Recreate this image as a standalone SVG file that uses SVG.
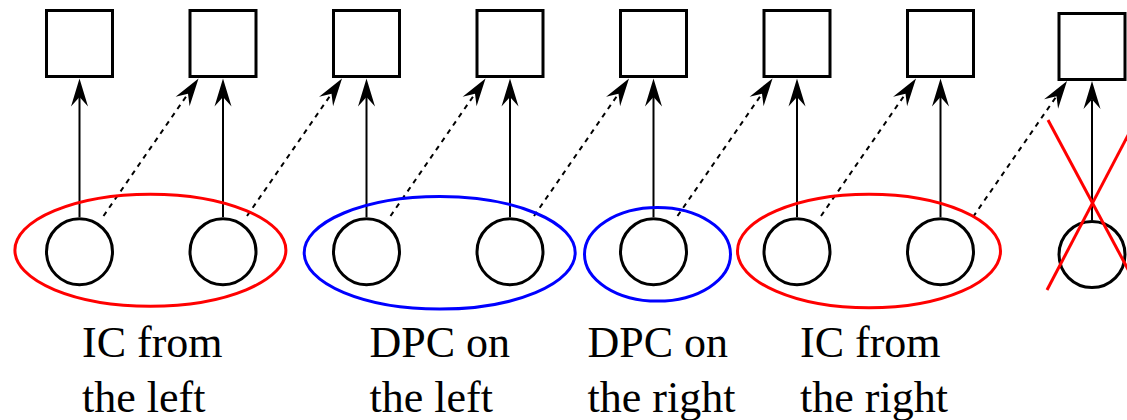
<svg xmlns="http://www.w3.org/2000/svg" width="1127" height="420" viewBox="0 0 1127 420">
  <style>
    .box { fill: none; stroke: #000; stroke-width: 3; }
    .node { fill: none; stroke: #000; stroke-width: 3; }
    .link { stroke: #000; stroke-width: 2; fill: none; marker-end: url(#head); }
    .dash { stroke-dasharray: 5 5; }
    .red { fill: none; stroke: #ff0000; stroke-width: 3; }
    .blue { fill: none; stroke: #0000ff; stroke-width: 3; }
    .label { font-family: "Liberation Serif", "Times New Roman", serif; font-size: 44px; fill: #000; }
  </style>
  <defs>
    <!-- barbed arrowhead; origin sits at the notch, tip 18.5 ahead -->
    <marker id="head" markerUnits="userSpaceOnUse" viewBox="-10 -10 30 20" markerWidth="30" markerHeight="20" refX="0" refY="0" orient="auto" overflow="visible">
      <path d="M18.5,0 L-9.5,-8.5 L0,0 L-9.5,8.5 Z" fill="#000"/>
    </marker>
  </defs>

  <!-- connectors: solid up-links and dashed diagonal links -->
  <g id="connectors">
    <line class="link" x1="79.5" y1="217" x2="79.5" y2="97"/>
    <line class="link" x1="223" y1="217" x2="223" y2="97"/>
    <line class="link" x1="366.5" y1="217" x2="366.5" y2="97"/>
    <line class="link" x1="510" y1="217" x2="510" y2="97"/>
    <line class="link" x1="653.5" y1="217" x2="653.5" y2="97"/>
    <line class="link" x1="797" y1="217" x2="797" y2="97"/>
    <line class="link" x1="940.5" y1="217" x2="940.5" y2="97"/>
    <line class="link" x1="1092" y1="220" x2="1092" y2="99.5"/>

    <line class="link dash" x1="103.5" y1="216" x2="188" y2="93.7"/>
    <line class="link dash" x1="247" y1="216" x2="331.5" y2="93.7"/>
    <line class="link dash" x1="390.5" y1="216" x2="475" y2="93.7"/>
    <line class="link dash" x1="534" y1="216" x2="618.5" y2="93.7"/>
    <line class="link dash" x1="677.5" y1="216" x2="762" y2="93.7"/>
    <line class="link dash" x1="821" y1="216" x2="905.5" y2="93.7"/>
    <line class="link dash" x1="973" y1="217" x2="1056.5" y2="96.2"/>
  </g>

  <!-- top row boxes -->
  <g id="box1"><rect class="box" x="46.5" y="10.5" width="66" height="66"/></g>
  <g id="box2"><rect class="box" x="190" y="10.5" width="66" height="66"/></g>
  <g id="box3"><rect class="box" x="333.5" y="10.5" width="66" height="66"/></g>
  <g id="box4"><rect class="box" x="477" y="10.5" width="66" height="66"/></g>
  <g id="box5"><rect class="box" x="620.5" y="10.5" width="66" height="66"/></g>
  <g id="box6"><rect class="box" x="764" y="10.5" width="66" height="66"/></g>
  <g id="box7"><rect class="box" x="907.5" y="10.5" width="66" height="66"/></g>
  <g id="box8"><rect class="box" x="1059" y="13.5" width="66" height="66"/></g>

  <!-- bottom row circles -->
  <g id="node1"><circle class="node" cx="79.5" cy="251.7" r="33"/></g>
  <g id="node2"><circle class="node" cx="223" cy="251.7" r="33"/></g>
  <g id="node3"><circle class="node" cx="366.5" cy="251.7" r="33"/></g>
  <g id="node4"><circle class="node" cx="510" cy="251.7" r="33"/></g>
  <g id="node5"><circle class="node" cx="653.5" cy="251.7" r="33"/></g>
  <g id="node6"><circle class="node" cx="797" cy="251.7" r="33"/></g>
  <g id="node7"><circle class="node" cx="940.5" cy="251.7" r="33"/></g>
  <g id="node8"><circle class="node" cx="1092" cy="254.5" r="33"/></g>

  <!-- groupings -->
  <g id="group-ic-left"><ellipse class="red" cx="150.4" cy="250.2" rx="135.5" ry="56"/></g>
  <g id="group-dpc-left"><ellipse class="blue" cx="439.7" cy="252.8" rx="135.5" ry="56.3"/></g>
  <g id="group-dpc-right"><ellipse class="blue" cx="657.5" cy="254.3" rx="73" ry="46.8"/></g>
  <g id="group-ic-right"><ellipse class="red" cx="869" cy="251" rx="131.5" ry="56.8"/></g>

  <!-- cross over the last column -->
  <g id="cross">
    <line class="red" x1="1048" y1="120" x2="1138" y2="288"/>
    <line class="red" x1="1047" y1="290" x2="1137" y2="118"/>
  </g>

  <!-- labels -->
  <g id="label-ic-left">
    <text class="label" x="82" y="357">IC from</text>
    <text class="label" x="82" y="412">the left</text>
  </g>
  <g id="label-dpc-left">
    <text class="label" x="369.5" y="357">DPC on</text>
    <text class="label" x="369.5" y="412">the left</text>
  </g>
  <g id="label-dpc-right">
    <text class="label" x="587.5" y="357">DPC on</text>
    <text class="label" x="587.5" y="412">the right</text>
  </g>
  <g id="label-ic-right">
    <text class="label" x="800" y="357">IC from</text>
    <text class="label" x="800" y="412">the right</text>
  </g>
</svg>
